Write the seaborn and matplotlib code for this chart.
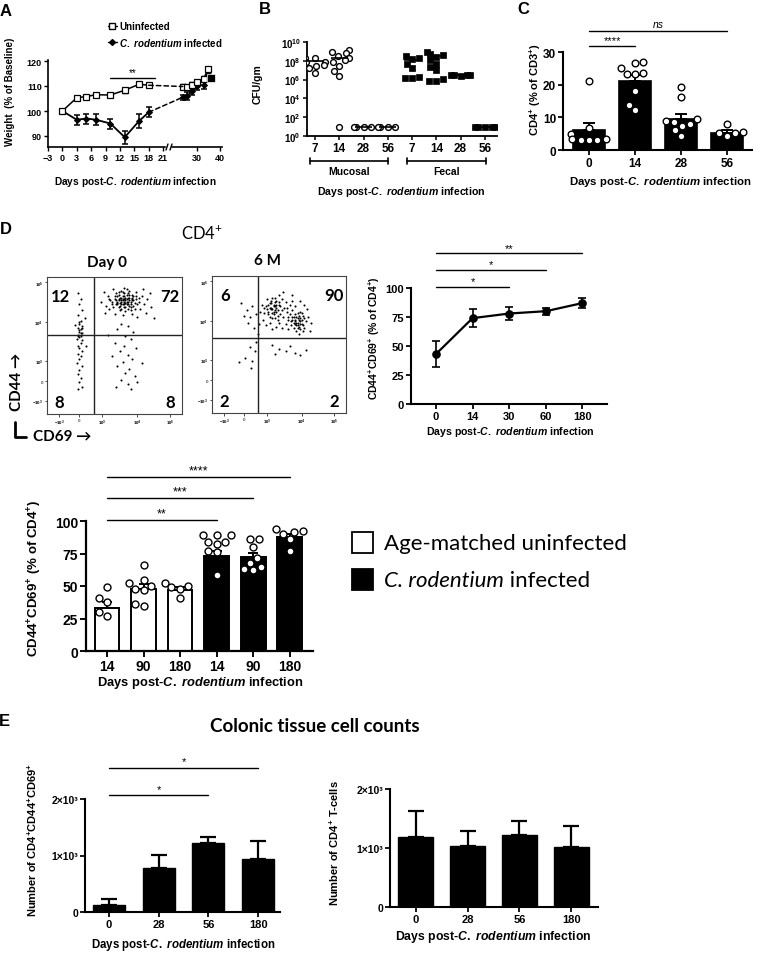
import warnings
warnings.filterwarnings("ignore")
import numpy as np
import pandas as pd
import matplotlib
matplotlib.use("Agg")
import matplotlib.pyplot as plt
import matplotlib.transforms as mtransforms
from matplotlib.patches import ConnectionPatch, Rectangle
from matplotlib.lines import Line2D
from matplotlib.ticker import NullLocator
import seaborn as sns

# ---------------- Panel A: weight (% baseline) ----------------
A_DAYS_EARLY = [0, 3, 5, 7, 10, 13, 16, 18]
A_UNINF_EARLY = [100, 105.3, 105.8, 106.5, 106.4, 108.3, 110.7, 110.3]
A_UNINF_EARLY_SEM = [0.4, 0.5, 0.5, 0.7, 0.5, 0.9, 0.5, 0.4]
A_INF_EARLY = [100, 96.5, 97.0, 96.5, 95.0, 89.5, 96.0, 99.5]
A_INF_EARLY_SEM = [0.5, 2.0, 2.0, 2.2, 2.0, 2.5, 2.8, 2.0]
A_DAYS_LATE = [24, 26, 28, 30, 33, 35]
A_UNINF_LATE = [109.8, 109.5, 110.5, 111.5, 113.0, 116.8]
A_UNINF_LATE_SEM = [1.0, 1.0, 1.2, 1.0, 1.0, 0.8]
A_INF_LATE = [105.5, 106.0, 108.0, 110.0, 110.5, 115.0]
A_INF_LATE_SEM = [1.0, 1.5, 1.5, 1.5, 1.5, 1.5]
A_INF_LAST_DAY = [36]
A_INF_LAST = [113.3]

# ---------------- Panel B: CFU/gm (log10 values) ----------------
B_ORDER = ["M7", "M14", "M28", "M56", "F7", "F14", "F28", "F56"]
B_TICKLABELS = ["7", "14", "28", "56", "7", "14", "28", "56"]
B_MUC_7 = [8.3, 8.3, 7.9, 7.9, 7.5, 7.6, 6.7, 7.2]
B_MUC_14 = [9.1, 8.9, 8.8, 8.5, 8.3, 8.05, 7.9, 7.5, 6.9, 6.4, 0.95]
B_MUC_28 = [0.95, 0.95, 0.95, 0.95]
B_MUC_56 = [0.95, 0.95, 0.95, 0.95]
B_FEC_7 = [8.5, 8.3, 8.2, 7.7, 7.2, 6.3, 6.2, 6.2]
B_FEC_14 = [8.9, 8.75, 8.65, 8.4, 8.05, 7.7, 7.3, 7.0, 6.1, 5.9, 5.9]
B_FEC_28 = [6.5, 6.45, 6.4, 6.45, 6.5]
B_FEC_56 = [0.95, 0.95, 0.95, 0.95, 0.95]
B_MEAN = [8.0, 8.3, 0.95, 0.95, 8.05, 8.5, 6.45, 0.95]

# ---------------- Panel C: CD4+ (% of CD3+) ----------------
C_ORDER = ["0", "14", "28", "56"]
C_MEAN = [6.0, 21.2, 9.5, 5.2]
C_SEM = [2.4, 1.8, 1.5, 1.0]
C_PTS_0 = [21.2, 6.6, 4.9, 3.4, 3.2, 3.2, 3.4, 3.1]
C_PTS_14 = [26.9, 26.6, 25.1, 23.6, 23.3, 23.3, 18.2, 13.8, 12.1]
C_PTS_28 = [19.2, 16.2, 9.5, 9.0, 8.5, 8.0, 7.5, 6.0, 4.2]
C_PTS_56 = [7.9, 5.5, 5.3, 5.2, 4.2]

# ---------------- Panel D: flow plots (normalised display coords) ----------------
FLOW1_X = [0.50, 0.52, 0.54, 0.55, 0.56, 0.57, 0.58, 0.59, 0.60, 0.61, 0.62, 0.63, 0.64, 0.65,
           0.53, 0.55, 0.58, 0.60, 0.62, 0.48, 0.47, 0.45, 0.44, 0.66, 0.68, 0.70, 0.72, 0.74,
           0.69, 0.51, 0.56, 0.61, 0.66, 0.71, 0.49, 0.57, 0.42, 0.40, 0.43, 0.50, 0.56, 0.63,
           0.67, 0.73, 0.77, 0.76, 0.53, 0.57, 0.59, 0.54, 0.56, 0.58, 0.52, 0.60, 0.55, 0.57,
           0.51, 0.63, 0.46, 0.79,
           0.51, 0.53, 0.55, 0.57, 0.59, 0.61, 0.63, 0.52, 0.54, 0.56, 0.58, 0.60, 0.62, 0.64,
           0.50, 0.53, 0.55, 0.57, 0.59, 0.61, 0.48, 0.52, 0.56, 0.60, 0.64, 0.66, 0.68, 0.46,
           0.49, 0.54, 0.58, 0.62, 0.65, 0.67, 0.55, 0.57, 0.53, 0.59, 0.61, 0.63,
           0.55, 0.60, 0.52, 0.64, 0.58, 0.62, 0.50, 0.57, 0.66, 0.54, 0.60, 0.63, 0.56, 0.52,
           0.61, 0.58, 0.65, 0.55, 0.60, 0.51, 0.67, 0.62, 0.48, 0.70, 0.45,
           0.23, 0.25, 0.24, 0.26, 0.23, 0.25, 0.24, 0.26, 0.23, 0.25, 0.24, 0.26, 0.23, 0.25,
           0.24, 0.22, 0.26, 0.25, 0.23, 0.24, 0.26, 0.23, 0.25, 0.24, 0.22, 0.26, 0.24, 0.23,
           0.25, 0.24, 0.26, 0.23, 0.28, 0.29, 0.21, 0.24, 0.25, 0.23, 0.26, 0.24]
FLOW1_Y = [0.84, 0.82, 0.85, 0.80, 0.83, 0.86, 0.81, 0.84, 0.82, 0.85, 0.80, 0.83, 0.86, 0.81,
           0.78, 0.77, 0.78, 0.77, 0.76, 0.80, 0.83, 0.86, 0.79, 0.84, 0.82, 0.86, 0.80, 0.84,
           0.77, 0.88, 0.89, 0.90, 0.89, 0.91, 0.91, 0.92, 0.89, 0.82, 0.74, 0.73, 0.72, 0.73,
           0.71, 0.74, 0.78, 0.88, 0.83, 0.80, 0.87, 0.81, 0.84, 0.83, 0.86, 0.85, 0.82, 0.84,
           0.80, 0.87, 0.77, 0.70,
           0.83, 0.84, 0.85, 0.82, 0.80, 0.83, 0.84, 0.81, 0.79, 0.86, 0.85, 0.80, 0.82, 0.83,
           0.86, 0.87, 0.83, 0.88, 0.82, 0.87, 0.82, 0.80, 0.80, 0.88, 0.79, 0.86, 0.85, 0.84,
           0.78, 0.76, 0.75, 0.78, 0.77, 0.80, 0.90, 0.78, 0.89, 0.91, 0.79, 0.85,
           0.66, 0.64, 0.62, 0.60, 0.57, 0.55, 0.52, 0.50, 0.48, 0.46, 0.43, 0.40, 0.38, 0.35,
           0.33, 0.30, 0.28, 0.25, 0.22, 0.20, 0.23, 0.18, 0.42, 0.37, 0.58,
           0.88, 0.84, 0.80, 0.76, 0.72, 0.68, 0.66, 0.64, 0.63, 0.62, 0.60, 0.59, 0.58, 0.57,
           0.56, 0.55, 0.54, 0.52, 0.50, 0.48, 0.46, 0.44, 0.42, 0.40, 0.37, 0.35, 0.32, 0.29,
           0.26, 0.23, 0.20, 0.18, 0.70, 0.50, 0.65, 0.61, 0.59, 0.57, 0.63, 0.67]
FLOW2_X = [0.40, 0.42, 0.44, 0.45, 0.46, 0.47, 0.48, 0.49, 0.50, 0.43, 0.41, 0.39, 0.45, 0.51,
           0.52, 0.44, 0.46, 0.48, 0.42, 0.47, 0.38, 0.37, 0.50, 0.43, 0.54, 0.55, 0.47, 0.40,
           0.53, 0.36,
           0.44, 0.46, 0.48, 0.45, 0.47, 0.43, 0.49, 0.41, 0.50, 0.42, 0.46, 0.48, 0.44, 0.52,
           0.39, 0.45, 0.47, 0.51, 0.43, 0.49,
           0.60, 0.62, 0.63, 0.64, 0.65, 0.66, 0.67, 0.68, 0.61, 0.63, 0.66, 0.69, 0.70, 0.58,
           0.59, 0.64, 0.72, 0.71, 0.57, 0.65, 0.62, 0.64, 0.66, 0.60, 0.68, 0.74,
           0.62, 0.64, 0.66, 0.63, 0.65, 0.61, 0.67, 0.60, 0.68, 0.64, 0.62, 0.66, 0.63, 0.65,
           0.69, 0.59, 0.61, 0.67, 0.57, 0.56,
           0.56, 0.58, 0.60, 0.62, 0.57, 0.55, 0.52, 0.50, 0.53, 0.60, 0.66, 0.48, 0.45, 0.69,
           0.73, 0.35, 0.33, 0.30, 0.28, 0.26, 0.31, 0.27, 0.24, 0.22, 0.34,
           0.28, 0.32, 0.25, 0.30, 0.20, 0.33, 0.45, 0.50, 0.62, 0.66, 0.58, 0.47, 0.70, 0.55,
           0.29]
FLOW2_Y = [0.78, 0.74, 0.80, 0.76, 0.72, 0.78, 0.82, 0.75, 0.79, 0.70, 0.83, 0.73, 0.84, 0.72,
           0.83, 0.77, 0.79, 0.74, 0.79, 0.75, 0.68, 0.79, 0.86, 0.66, 0.77, 0.81, 0.69, 0.64,
           0.70, 0.74,
           0.76, 0.78, 0.77, 0.73, 0.81, 0.77, 0.71, 0.76, 0.81, 0.72, 0.74, 0.79, 0.82, 0.75,
           0.77, 0.69, 0.84, 0.78, 0.80, 0.68,
           0.68, 0.65, 0.70, 0.66, 0.63, 0.69, 0.65, 0.71, 0.62, 0.60, 0.74, 0.62, 0.67, 0.72,
           0.64, 0.73, 0.70, 0.76, 0.61, 0.58, 0.68, 0.64, 0.67, 0.75, 0.60, 0.66,
           0.67, 0.69, 0.65, 0.64, 0.71, 0.66, 0.68, 0.70, 0.64, 0.62, 0.72, 0.61, 0.66, 0.68,
           0.69, 0.67, 0.70, 0.73, 0.70, 0.77,
           0.74, 0.79, 0.82, 0.78, 0.68, 0.65, 0.62, 0.66, 0.88, 0.86, 0.82, 0.63, 0.61, 0.79,
           0.60, 0.65, 0.72, 0.78, 0.70, 0.75, 0.62, 0.66, 0.71, 0.80, 0.58,
           0.48, 0.45, 0.40, 0.38, 0.37, 0.52, 0.50, 0.47, 0.44, 0.42, 0.49, 0.43, 0.46, 0.45,
           0.33]
FLOW1_GATE = (0.35, 0.58)
FLOW2_GATE = (0.34, 0.55)
FLOW1_PCT = ["12", "72", "8", "8"]
FLOW2_PCT = ["6", "90", "2", "2"]
FLOW_TICK_X = [0.09, 0.24, 0.41, 0.67, 0.91]
FLOW_TICK_Y = [0.095, 0.24, 0.39, 0.67, 0.96]
FLOW_TICK_LAB = [r"$-10^3$", "0", r"$10^3$", r"$10^4$", r"$10^5$"]

# ---------------- Panel D: line chart ----------------
DL_ORDER = ["0", "14", "30", "60", "180"]
DL_MEAN = [43, 74, 78, 80, 87]
DL_SEM = [11, 7.5, 6, 3, 4.5]

# ---------------- Panel D: bar chart ----------------
DB_ORDER = ["U14", "U90", "U180", "I14", "I90", "I180"]
DB_TICKLABELS = ["14", "90", "180", "14", "90", "180"]
DB_MEAN = [33, 47.5, 47, 73, 72, 88]
DB_SEM = [5, 4, 2.5, 4, 3.5, 2]
DB_COLORS = ["white", "white", "white", "black", "black", "black"]
DB_PTS = {
    "U14": [49, 40.5, 37.5, 30, 27],
    "U90": [66, 55, 52, 50, 48, 47, 35, 36],
    "U180": [52, 50, 49, 48, 41],
    "I14": [89, 89, 89, 84, 84, 82.5, 77, 76, 58.5],
    "I90": [86, 86, 80, 71.5, 68, 64.5, 62, 63],
    "I180": [92, 91.5, 94, 90, 86, 77],
}

# ---------------- Panel E: cell counts ----------------
E_ORDER = ["0", "28", "56", "180"]
E1_MEAN = [120, 780, 1220, 940]
E1_SEM = [110, 230, 110, 320]
E2_MEAN = [1190, 1040, 1225, 1015]
E2_SEM = [440, 250, 235, 365]

# ---------------- style ----------------
sns.set_theme(style="ticks")
plt.rcParams.update({
    "font.family": ["Liberation Sans", "DejaVu Sans"],
    "font.weight": "bold",
    "mathtext.fontset": "custom",
    "mathtext.rm": "Liberation Sans:bold",
    "mathtext.it": "Liberation Sans:italic:bold",
    "mathtext.bf": "Liberation Sans:bold",
    "mathtext.default": "it",
    "text.color": "black",
    "xtick.color": "black",
    "ytick.color": "black",
    "axes.edgecolor": "black",
})
CAL = ["Lato", "DejaVu Sans"]
P = r"$^{\mathregular{+}}$"
XLAB = r"Days post-$C.\ rodentium$ infection"

W, H = 760, 954
fig = plt.figure(figsize=(W / 100, H / 100), dpi=100)
fig.patch.set_facecolor("white")


def add_ax(x0, y0, x1, y1):
    ax = fig.add_axes([x0 / W, 1 - y1 / H, (x1 - x0) / W, (y1 - y0) / H])
    ax.set_facecolor("none")
    return ax


def ftext(x, y, s, **kw):
    kw.setdefault("ha", "center")
    kw.setdefault("va", "center")
    return fig.text(x / W, 1 - y / H, s, **kw)


def prism(ax, lw=1.4, tl=3.5, fs=7):
    sns.despine(ax=ax)
    for s in ("left", "bottom"):
        ax.spines[s].set_linewidth(lw)
        ax.spines[s].set_color("black")
    ax.tick_params(axis="both", direction="out", length=tl, width=lw * 0.85,
                   labelsize=fs, pad=1.5)
    ax.set_xlabel("")
    ax.set_ylabel("")


def sig(ax, x0, x1, y, label, dy, fs=8, style="normal", lw=1.0):
    ax.plot([x0, x1], [y, y], color="black", lw=lw, clip_on=False)
    ax.text((x0 + x1) / 2, y + dy, label, ha="center", va="bottom", fontsize=fs,
            fontstyle=style, fontweight="normal", clip_on=False)


def upbars(ax, mean, sem, lw=1.4, cap=3):
    n = len(mean)
    ax.errorbar(np.arange(n), mean, yerr=[np.zeros(n), sem], fmt="none", ecolor="black",
                elinewidth=lw, capsize=cap, capthick=lw, zorder=0.5)


# ================= Panel A =================
axA1 = add_ax(48, 61, 165, 148)
axA2 = add_ax(172, 61, 222, 148)
for ax in (axA1, axA2):
    prism(ax, lw=1.2, tl=3, fs=6.5)
    ax.set_ylim(85.6, 120.4)
axA1.set_xlim(-3, 21.4)
axA2.set_xlim(19.4, 40.9)
axA2.spines["left"].set_visible(False)
axA2.tick_params(axis="y", left=False, labelleft=False)
axA1.set_xticks([-3, 0, 3, 6, 9, 12, 15, 18, 21])
axA2.set_xticks([30, 40])
axA1.set_yticks([90, 100, 110, 120])

for ax, d, u, us, i, is_ in ((axA1, A_DAYS_EARLY, A_UNINF_EARLY, A_UNINF_EARLY_SEM, A_INF_EARLY, A_INF_EARLY_SEM),
                             (axA2, A_DAYS_LATE, A_UNINF_LATE, A_UNINF_LATE_SEM, A_INF_LATE, A_INF_LATE_SEM)):
    ax.errorbar(d, i, yerr=is_, fmt="none", ecolor="black", elinewidth=1.1, capsize=2.5, capthick=1.1, zorder=2)
    ax.errorbar(d, u, yerr=us, fmt="none", ecolor="black", elinewidth=1.0, capsize=2, capthick=1.0, zorder=2)
    sns.lineplot(x=d, y=i, ax=ax, color="black", linewidth=1.3, marker="D", markersize=3,
                 markeredgecolor="black", zorder=3, clip_on=False)
    sns.lineplot(x=d, y=u, ax=ax, color="black", linewidth=1.1, marker="s", markersize=4,
                 markerfacecolor="white", markeredgecolor="black", markeredgewidth=0.9, zorder=4,
                 clip_on=False)
sns.scatterplot(x=A_INF_LAST_DAY, y=A_INF_LAST, ax=axA2, marker="s", s=40, color="black",
                zorder=5, clip_on=False)
axA2.plot([A_DAYS_LATE[-1], A_INF_LAST_DAY[0]], [A_INF_LATE[-1], A_INF_LAST[0]], color="black", lw=1.1)
for ya, yb in ((A_UNINF_EARLY[-1], A_UNINF_LATE[0]), (A_INF_EARLY[-1], A_INF_LATE[0])):
    con = ConnectionPatch(xyA=(A_DAYS_EARLY[-1], ya), coordsA="data", axesA=axA1,
                          xyB=(A_DAYS_LATE[0], yb), coordsB="data", axesB=axA2,
                          color="black", lw=1.1, linestyle=(0, (3, 2)))
    fig.add_artist(con)
for xb in (167, 171):
    fig.add_artist(Line2D([(xb - 1) / W, (xb + 1) / W], [1 - 151 / H, 1 - 145 / H],
                          color="black", lw=1.0, transform=fig.transFigure))
sig(axA1, 9.9, 19.3, 113.2, "**", 0.3, fs=7, style="normal")
leg_handles = [Line2D([0], [0], color="black", marker="s", mfc="white", mec="black", lw=1, ms=4),
               Line2D([0], [0], color="black", marker="D", ms=3, lw=1)]
fig.legend(handles=leg_handles, labels=["Uninfected", r"$C.\ rodentium$ infected"],
           loc="upper left", bbox_to_anchor=(108 / W, 1 - 22 / H), frameon=False,
           prop={"weight": "bold", "size": 7}, handlelength=0.9, handletextpad=0.25,
           labelspacing=0.5, borderpad=0, borderaxespad=0)
ftext(10, 92, "Weight  (% of Baseline)", rotation=90, fontsize=7)
ftext(135, 182, XLAB, fontsize=7.3)
ftext(6, 12, "A", fontsize=12)

# ================= Panel B =================
axB = add_ax(307, 43, 497, 137)
prism(axB, lw=1.3, tl=3, fs=8.5)
muc = pd.DataFrame({"grp": ["M7"] * len(B_MUC_7) + ["M14"] * len(B_MUC_14) +
                    ["M28"] * len(B_MUC_28) + ["M56"] * len(B_MUC_56),
                    "cfu": 10 ** np.array(B_MUC_7 + B_MUC_14 + B_MUC_28 + B_MUC_56)})
fec = pd.DataFrame({"grp": ["F7"] * len(B_FEC_7) + ["F14"] * len(B_FEC_14) +
                    ["F28"] * len(B_FEC_28) + ["F56"] * len(B_FEC_56),
                    "cfu": 10 ** np.array(B_FEC_7 + B_FEC_14 + B_FEC_28 + B_FEC_56)})
sns.swarmplot(data=muc, x="grp", y="cfu", order=B_ORDER, ax=axB, marker="o", size=4.2,
              color="white", edgecolor="black", linewidth=1.0, log_scale=(False, True), zorder=3)
sns.swarmplot(data=fec, x="grp", y="cfu", order=B_ORDER, ax=axB, marker="s", size=4.2,
              color="black", edgecolor="black", linewidth=0.5, log_scale=(False, True), zorder=3)
axB.set_yscale("log")
axB.set_ylim(1, 1e10)
axB.set_xlim(-0.33, 7.5)
axB.hlines([10 ** m for m in B_MEAN], np.arange(8) - 0.35, np.arange(8) + 0.35, color="black",
           lw=1.2, zorder=4)
axB.set_yticks([10.0 ** k for k in range(0, 11, 2)])
axB.set_yticklabels([rf"$10^{{{k}}}$" for k in range(0, 11, 2)], fontsize=7)
axB.yaxis.set_minor_locator(NullLocator())
axB.set_xticks(range(8))
axB.set_xticklabels(B_TICKLABELS)
axB.set_xlabel("")
axB.set_ylabel("")
trB = mtransforms.blended_transform_factory(axB.transData, axB.transAxes)
for x0, x1, lab in ((-0.2, 3.0, "Mucosal"), (3.8, 7.05, "Fecal")):
    axB.plot([x0, x1], [-0.266, -0.266], color="black", lw=1.2, transform=trB, clip_on=False)
    for xx in (x0, x1):
        axB.plot([xx, xx], [-0.30, -0.235], color="black", lw=1.2, transform=trB, clip_on=False)
    axB.text((x0 + x1) / 2, -0.37, lab, transform=trB, ha="center", va="center", fontsize=7.5)
ftext(258, 84, "CFU/gm", rotation=90, fontsize=7.5)
ftext(401, 192, XLAB, fontsize=7.6)
ftext(265, 9, "B", fontsize=12)

# ================= Panel C =================
axC = add_ax(563, 53, 752, 151)
prism(axC, lw=1.5, tl=3.5, fs=8.5)
sns.barplot(x=C_ORDER, y=C_MEAN, order=C_ORDER, color="black", saturation=1, width=0.7,
            errorbar=None, ax=axC, edgecolor="black", linewidth=1.2)
upbars(axC, C_MEAN, C_SEM, lw=1.4, cap=4)
cdf = pd.DataFrame({"d": ["0"] * len(C_PTS_0) + ["14"] * len(C_PTS_14) + ["28"] * len(C_PTS_28) +
                    ["56"] * len(C_PTS_56), "v": C_PTS_0 + C_PTS_14 + C_PTS_28 + C_PTS_56})
sns.swarmplot(data=cdf, x="d", y="v", order=C_ORDER, ax=axC, color="white", edgecolor="black",
              linewidth=1.0, size=4.8, zorder=3)
axC.set_xlim(-0.565, 3.54)
axC.set_ylim(0, 30)
axC.set_yticks([0, 10, 20, 30])
axC.set_xlabel("")
axC.set_ylabel("")
sig(axC, 0, 1, 31.8, "****", 0.3, fs=8)
sig(axC, 0, 3, 36.4, "ns", 0.5, fs=7.5, style="italic")
ftext(535, 90, "CD4" + P + " (% of CD3" + P + ")", rotation=90, fontsize=8)
ftext(660, 182, XLAB, fontsize=8.2)
ftext(523, 9, "C", fontsize=12)

# ================= Panel D: flow plots =================
ftext(6, 230, "D", fontsize=12)
ftext(202, 233, "CD4" + P, fontsize=12, family=CAL, fontweight="normal")
ftext(107, 263, "Day 0", fontsize=11, family=CAL)
ftext(267, 261, "6 M", fontsize=11, family=CAL)
for box, fx, fy, gate, pct in (((47, 278, 182, 415), FLOW1_X, FLOW1_Y, FLOW1_GATE, FLOW1_PCT),
                               ((212, 277, 346, 414), FLOW2_X, FLOW2_Y, FLOW2_GATE, FLOW2_PCT)):
    axF = add_ax(*box)
    sns.scatterplot(x=fx, y=fy, ax=axF, s=2.2, color="black", linewidth=0)
    axF.axvline(gate[0], color="#222222", lw=1.0)
    axF.axhline(gate[1], color="#222222", lw=1.0)
    axF.set_xlim(0, 1)
    axF.set_ylim(0, 1)
    for s in axF.spines.values():
        s.set_linewidth(0.8)
        s.set_color("#444444")
    axF.set_xticks(FLOW_TICK_X)
    axF.set_yticks(FLOW_TICK_Y)
    axF.set_xticklabels(FLOW_TICK_LAB, fontsize=3.2, fontweight="normal")
    axF.set_yticklabels(FLOW_TICK_LAB, fontsize=3.2, fontweight="normal")
    axF.tick_params(length=1.8, width=0.5, pad=1)
    axF.set_xlabel("")
    axF.set_ylabel("")
    for (tx, ty), t in zip(((0.10, 0.86), (0.91, 0.86), (0.09, 0.09), (0.91, 0.09)), pct):
        axF.text(tx, ty, t, ha="center", va="center", fontsize=12, family=CAL,
                 transform=axF.transAxes)
ftext(17, 382, "CD44 \u2192", rotation=90, fontsize=11, family=CAL)
ftext(33, 437, "CD69 \u2192", ha="left", fontsize=11, family=CAL)
fig.add_artist(Line2D([15 / W, 15 / W, 26 / W], [1 - 423 / H, 1 - 438 / H, 1 - 438 / H],
                      color="black", lw=2, transform=fig.transFigure))

# ================= Panel D: line chart =================
axDL = add_ax(411, 289, 607, 405)
prism(axDL, lw=1.5, tl=3.5, fs=8)
axDL.errorbar(np.arange(5), DL_MEAN, yerr=DL_SEM, fmt="none", ecolor="black", elinewidth=1.2,
              capsize=3, capthick=1.2, zorder=2)
sns.pointplot(x=DL_ORDER, y=DL_MEAN, order=DL_ORDER, color="black", markers="o", markersize=5,
              linewidth=1.6, errorbar=None, ax=axDL)
axDL.set_xlim(-0.68, 4.67)
axDL.set_ylim(0, 100)
axDL.set_yticks([0, 25, 50, 75, 100])
axDL.set_xlabel("")
axDL.set_ylabel("")
sig(axDL, 0, 2, 100.9, "*", 0.5, fs=8)
sig(axDL, 0, 3, 115.5, "*", 0.5, fs=8)
sig(axDL, 0, 4, 130, "**", 0.5, fs=8)
ftext(374, 338, "CD44" + P + "CD69" + P + " (% of CD4" + P + ")", rotation=90, fontsize=7.5)
ftext(510, 432, XLAB, fontsize=7.6)

# ================= Panel D: bar chart =================
axDB = add_ax(86, 522, 313, 652)
prism(axDB, lw=1.6, tl=4, fs=10)
sns.barplot(x=DB_ORDER, y=DB_MEAN, order=DB_ORDER, hue=DB_ORDER, hue_order=DB_ORDER,
            palette=DB_COLORS, saturation=1, width=0.68, errorbar=None, legend=False,
            edgecolor="black", linewidth=1.4, ax=axDB)
upbars(axDB, DB_MEAN, DB_SEM, lw=1.4, cap=3.5)
dbdf = pd.DataFrame({"g": sum([[k] * len(v) for k, v in DB_PTS.items()], []),
                     "v": sum([list(v) for v in DB_PTS.values()], [])})
sns.swarmplot(data=dbdf, x="g", y="v", order=DB_ORDER, ax=axDB, color="white", edgecolor="black",
              linewidth=1.0, size=5, zorder=3)
axDB.set_xlim(-0.575, 5.64)
axDB.set_ylim(0, 100)
axDB.set_yticks([0, 25, 50, 75, 100])
axDB.set_xticks(range(6))
axDB.set_xticklabels(DB_TICKLABELS)
axDB.set_xlabel("")
axDB.set_ylabel("")
sig(axDB, 0, 3, 100.5, "**", 0.5, fs=9)
sig(axDB, 0, 4, 117.5, "***", 0.5, fs=9)
sig(axDB, 0, 5, 134, "****", 0.5, fs=9)
ftext(35, 578, "CD44" + P + "CD69" + P + " (% of CD4" + P + ")", rotation=90, fontsize=9.5)
ftext(200, 683, XLAB, fontsize=9.3)

# legend for the bar chart
axL = add_ax(340, 520, 760, 600)
axL.set_xlim(340, 760)
axL.set_ylim(600, 520)
axL.axis("off")
axL.add_patch(Rectangle((352, 533), 21, 21, facecolor="white", edgecolor="black", lw=1.3))
axL.add_patch(Rectangle((352, 570), 21, 21, facecolor="black", edgecolor="black", lw=1.3))
axL.text(384, 544, "Age-matched uninfected", ha="left", va="center", fontsize=16, family=CAL,
         fontweight="normal")
t1 = axL.text(384, 581, "C. rodentium", ha="left", va="center", fontsize=16, family=CAL,
              fontweight="normal", fontstyle="italic")
axL.annotate(" infected", xy=(1, 0), xycoords=t1, ha="left", va="bottom", fontsize=16,
             family=CAL, fontweight="normal")

# ================= Panel E =================
ftext(4, 721, "E", fontsize=12)
ftext(315, 727, "Colonic tissue cell counts", fontsize=13.5, family=CAL)
for box, mean, sem, width, xlim in (((85, 800, 280, 913), E1_MEAN, E1_SEM, 0.64, (-0.48, 3.44)),
                                    ((390, 790, 598, 908), E2_MEAN, E2_SEM, 0.68, (-0.5, 3.52))):
    axE = add_ax(*box)
    prism(axE, lw=1.5, tl=3.5, fs=8)
    sns.barplot(x=E_ORDER, y=mean, order=E_ORDER, color="black", saturation=1, width=width,
                errorbar=None, ax=axE, edgecolor="black", linewidth=1.0)
    upbars(axE, mean, sem, lw=1.6, cap=6)
    axE.set_xlim(*xlim)
    axE.set_ylim(0, 2000)
    axE.set_yticks([0, 1000, 2000])
    axE.set_yticklabels(["0", "1\u00d710\u00b3", "2\u00d710\u00b3"], fontsize=7.5)
    axE.set_xlabel("")
    axE.set_ylabel("")
    if box[0] == 85:
        sig(axE, 0, 2, 2070, "*", 25, fs=8)
        sig(axE, 0, 3, 2550, "*", 25, fs=8)
ftext(32, 840, "Number of CD4" + P + "CD44" + P + "CD69" + P, rotation=90, fontsize=8)
ftext(183, 945, XLAB, fontsize=8.3)
ftext(334, 843, "Number of CD4" + P + " T-cells", rotation=90, fontsize=8)
ftext(493, 937, XLAB, fontsize=8.8)

fig.savefig("out.png", dpi=100, facecolor="white")
